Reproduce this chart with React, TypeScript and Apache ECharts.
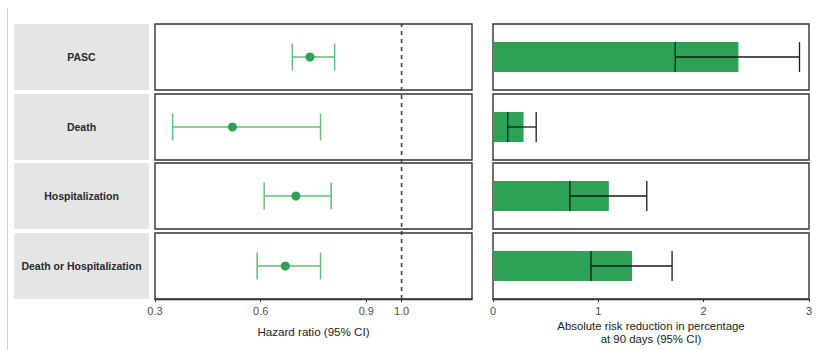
import React, { useEffect, useRef } from "react";
import * as echarts from "echarts";

const categories = ["PASC", "Death", "Hospitalization", "Death or Hospitalization"];
const hrEstimate = [0.74, 0.52, 0.70, 0.67];
const hrLower = [0.69, 0.35, 0.61, 0.59];
const hrUpper = [0.81, 0.77, 0.80, 0.77];
const arrEstimate = [2.33, 0.29, 1.10, 1.32];
const arrLower = [1.73, 0.14, 0.73, 0.93];
const arrUpper = [2.91, 0.41, 1.46, 1.70];
const hrTicks = [0.3, 0.6, 0.9, 1.0];
const arrTicks = [0, 1, 2, 3];
const hrReference = 1.0;

const FONT = '"Liberation Sans", Arial, sans-serif';
const GREEN = "#2fa156";
const CI_GREEN = "#62bd7a";
const rowTops = [24, 94, 163, 233];
const rowH = 66;
const forestLeft = 155;
const forestW = 317;
const barLeft = 493;
const barW = 316;
const labelLeft = 14;
const labelW = 135;

function errorBar(stroke: string, lw: number, cap: number) {
  return (params: any, api: any) => {
    const y = api.value(2);
    const lo = api.coord([api.value(0), y]);
    const hi = api.coord([api.value(1), y]);
    const h = cap / 2;
    const style = { stroke, lineWidth: lw, fill: "none" };
    return {
      type: "group",
      children: [
        { type: "line", shape: { x1: lo[0], y1: lo[1], x2: hi[0], y2: hi[1] }, style },
        { type: "line", shape: { x1: lo[0], y1: lo[1] - h, x2: lo[0], y2: lo[1] + h }, style },
        { type: "line", shape: { x1: hi[0], y1: hi[1] - h, x2: hi[0], y2: hi[1] + h }, style },
      ],
    };
  };
}

export default function App() {
  const ref = useRef<HTMLDivElement>(null);
  useEffect(() => {
    if (!ref.current) return;
    const chart = echarts.init(ref.current, null, { renderer: "svg" });
    const grid: any[] = [];
    const xAxis: any[] = [];
    const yAxis: any[] = [];
    const series: any[] = [];
    const graphic: any[] = [];

    graphic.push({
      type: "line",
      shape: { x1: 7.5, y1: 8, x2: 7.5, y2: 350 },
      style: { stroke: "#d4d4d4", lineWidth: 1 },
    });

    categories.forEach((cat, i) => {
      const last = i === categories.length - 1;
      const top = rowTops[i];
      graphic.push({
        type: "rect",
        shape: { x: labelLeft, y: top, width: labelW, height: rowH },
        style: { fill: "#e5e5e5" },
      });
      graphic.push({
        type: "text",
        x: labelLeft + labelW / 2,
        y: top + rowH / 2,
        style: {
          text: cat,
          align: "center",
          verticalAlign: "middle",
          font: `bold 10.5px ${FONT}`,
          fill: "#2a2a2a",
        },
      });

      // forest grid
      const gF = grid.length;
      grid.push({
        left: forestLeft,
        width: forestW,
        top,
        height: rowH,
        show: true,
        borderColor: "#333",
        borderWidth: 1.4,
        backgroundColor: "#fff",
      });
      xAxis.push({
        type: "value",
        gridIndex: gF,
        min: 0.3,
        max: 1.2,
        splitLine: { show: false },
        axisLine: { show: last, lineStyle: { color: "#333", width: 1.4 } },
        axisTick: { show: last, length: 3, customValues: hrTicks, lineStyle: { color: "#333" } },
        axisLabel: {
          show: last,
          customValues: hrTicks,
          margin: 6,
          formatter: (v: number) => v.toFixed(1),
          color: "#4d4d4d",
          fontSize: 11,
          fontFamily: FONT,
        },
        name: last ? "Hazard ratio (95% CI)" : "",
        nameLocation: "middle",
        nameGap: 26,
        nameTextStyle: { color: "#222", fontSize: 11.6, fontFamily: FONT },
      });
      yAxis.push({ type: "category", gridIndex: gF, data: [cat], show: false });
      series.push({
        type: "custom",
        xAxisIndex: gF,
        yAxisIndex: gF,
        renderItem: errorBar(CI_GREEN, 1.5, 27),
        encode: { x: [0, 1], y: 2 },
        data: [[hrLower[i], hrUpper[i], 0]],
        z: 3,
      });
      series.push({
        type: "scatter",
        xAxisIndex: gF,
        yAxisIndex: gF,
        symbolSize: 9,
        itemStyle: { color: GREEN, opacity: 1 },
        data: [[hrEstimate[i], 0]],
        z: 4,
      });

      // bar grid
      const gB = grid.length;
      grid.push({
        left: barLeft,
        width: barW,
        top,
        height: rowH,
        show: true,
        borderColor: "#333",
        borderWidth: 1.4,
        backgroundColor: "#fff",
      });
      xAxis.push({
        type: "value",
        gridIndex: gB,
        min: 0,
        max: 3,
        interval: 1,
        splitLine: { show: false },
        axisLine: { show: last, lineStyle: { color: "#333", width: 1.4 } },
        axisTick: { show: last, length: 3, customValues: arrTicks, lineStyle: { color: "#333" } },
        axisLabel: {
          show: last,
          customValues: arrTicks,
          margin: 6,
          color: "#4d4d4d",
          fontSize: 11,
          fontFamily: FONT,
        },
        name: last ? "Absolute risk reduction in percentage\nat 90 days (95% CI)" : "",
        nameLocation: "middle",
        nameGap: 21,
        nameTextStyle: { color: "#222", fontSize: 11.4, lineHeight: 12.6, fontFamily: FONT },
      });
      yAxis.push({ type: "category", gridIndex: gB, data: [cat], show: false });
      series.push({
        type: "bar",
        xAxisIndex: gB,
        yAxisIndex: gB,
        barWidth: 30,
        itemStyle: { color: GREEN },
        data: [arrEstimate[i]],
        z: 2,
      });
      series.push({
        type: "custom",
        xAxisIndex: gB,
        yAxisIndex: gB,
        renderItem: errorBar("#1a1a1a", 1.3, 30),
        encode: { x: [0, 1], y: 2 },
        data: [[arrLower[i], arrUpper[i], 0]],
        z: 3,
      });
    });

    // overlay for continuous reference line
    const gR = grid.length;
    grid.push({
      left: forestLeft,
      width: forestW,
      top: rowTops[0],
      height: rowTops[rowTops.length - 1] + rowH - rowTops[0],
      show: false,
    });
    xAxis.push({ type: "value", gridIndex: gR, min: 0.3, max: 1.2, show: false });
    yAxis.push({ type: "value", gridIndex: gR, min: 0, max: 1, show: false });
    series.push({
      type: "line",
      xAxisIndex: gR,
      yAxisIndex: gR,
      data: [
        [hrReference, 0],
        [hrReference, 1],
      ],
      symbol: "none",
      lineStyle: { color: "#444", width: 1.6, type: [4, 4] },
      z: 5,
    });

    chart.setOption({
      animation: false,
      textStyle: { fontFamily: FONT },
      grid,
      xAxis,
      yAxis,
      series,
      graphic,
    });
    return () => chart.dispose();
  }, []);
  return (
    <div
      ref={ref}
      style={{ position: "fixed", left: 0, top: 0, width: 817, height: 350, background: "#fff" }}
    />
  );
}
